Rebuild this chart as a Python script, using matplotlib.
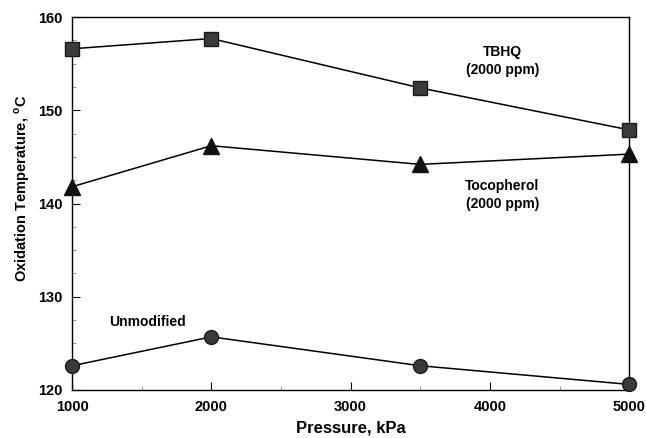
import numpy as np
import matplotlib.pyplot as plt
from matplotlib.ticker import MultipleLocator

plt.rcParams['font.family'] = 'Liberation Sans'
plt.rcParams['font.weight'] = 'bold'
plt.rcParams['mathtext.fontset'] = 'custom'
plt.rcParams['mathtext.bf'] = 'Liberation Sans:bold'

pressure = [1000, 2000, 3500, 5000]
tbhq = [156.6, 157.7, 152.4, 147.9]
tocopherol = [141.8, 146.2, 144.2, 145.3]
unmodified = [122.6, 125.7, 122.6, 120.6]

fig = plt.figure(figsize=(6.46, 4.38), dpi=100)
ax = fig.add_axes([0.1115, 0.1096, 0.8625, 0.8514])

ax.plot(pressure, tbhq, '-', color='black', lw=1.1, marker='s', ms=10,
        mfc='#3a3a3a', mec='#1a1a1a', clip_on=False, zorder=3)
ax.plot(pressure, tocopherol, '-', color='black', lw=1.1, marker='^', ms=11,
        mfc='#111111', mec='#111111', clip_on=False, zorder=3)
ax.plot(pressure, unmodified, '-', color='black', lw=1.1, marker='o', ms=10,
        mfc='#3a3a3a', mec='#1a1a1a', clip_on=False, zorder=3)

ax.text(4090, 155.3, 'TBHQ\n(2000 ppm)', ha='center', va='center',
        fontsize=10, fontweight='bold', linespacing=1.3)
ax.text(4090, 140.9, 'Tocopherol\n(2000 ppm)', ha='center', va='center',
        fontsize=10, fontweight='bold', linespacing=1.3)
ax.text(1544, 127.3, 'Unmodified', ha='center', va='center',
        fontsize=10, fontweight='bold')

ax.set_xlim(1000, 5000)
ax.set_ylim(120, 160)
ax.xaxis.set_major_locator(MultipleLocator(1000))
ax.xaxis.set_minor_locator(MultipleLocator(500))
ax.yaxis.set_major_locator(MultipleLocator(10))
ax.yaxis.set_minor_locator(MultipleLocator(2.5))
ax.tick_params(which='major', direction='in', length=6, width=0.8, labelsize=10.5, pad=7)
ax.tick_params(which='minor', direction='in', length=3, width=0.6, color='#888888')
for lab in ax.get_xticklabels() + ax.get_yticklabels():
    lab.set_fontweight('bold')

ax.set_xlabel('Pressure, kPa', fontsize=12, fontweight='bold', labelpad=5)
ax.set_ylabel(r'Oxidation Temperature, $^{\mathbf{o}}$C', fontsize=10.5,
              fontweight='bold')
ax.yaxis.set_label_coords(-0.072, 0.54)

for s in ax.spines.values():
    s.set_linewidth(1.0)

fig.savefig('out.png', dpi=100)
